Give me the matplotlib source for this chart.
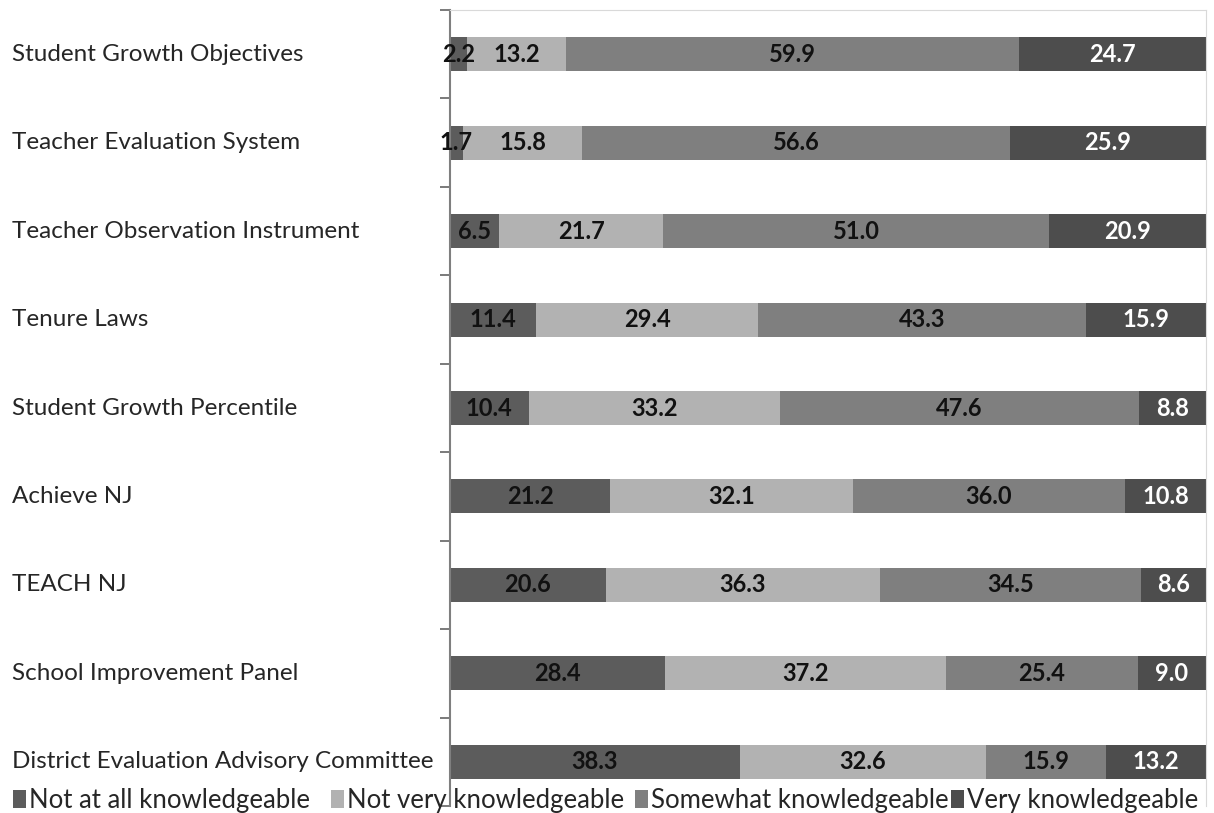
import matplotlib
matplotlib.use("Agg")
import matplotlib.pyplot as plt
import matplotlib.transforms as mtransforms
import numpy as np

categories = [
    "Student Growth Objectives",
    "Teacher Evaluation System",
    "Teacher Observation Instrument",
    "Tenure Laws",
    "Student Growth Percentile",
    "Achieve NJ",
    "TEACH NJ",
    "School Improvement Panel",
    "District Evaluation Advisory Committee",
]
series_names = ["Not at all knowledgeable", "Not very knowledgeable",
                "Somewhat knowledgeable", "Very knowledgeable"]
not_at_all = [2.2, 1.7, 6.5, 11.4, 10.4, 21.2, 20.6, 28.4, 38.3]
not_very = [13.2, 15.8, 21.7, 29.4, 33.2, 32.1, 36.3, 37.2, 32.6]
somewhat = [59.9, 56.6, 51.0, 43.3, 47.6, 36.0, 34.5, 25.4, 15.9]
very = [24.7, 25.9, 20.9, 15.9, 8.8, 10.8, 8.6, 9.0, 13.2]

colors = ["#5c5c5c", "#b2b2b2", "#7f7f7f", "#4d4d4d"]
text_colors = ["#111111", "#111111", "#111111", "#ffffff"]

plt.rcParams['font.family'] = ['Lato', 'DejaVu Sans']

W, H = 1214, 813
fig = plt.figure(figsize=(W/100, H/100), dpi=100)
ax = fig.add_axes([450/W, 1-806/H, (1206-450)/W, (806-10)/H])

y = np.arange(len(categories))
left = np.zeros(len(categories))
handles = []
for vals, name, c, tc in zip([not_at_all, not_very, somewhat, very], series_names, colors, text_colors):
    vals = np.array(vals)
    bars = ax.barh(y, vals, left=left, height=0.385, color=c, label=name)
    handles.append(bars)
    for yi, l, v in zip(y, left, vals):
        ax.text(l + v/2, yi, f"{v:.1f}", ha='center', va='center', color=tc,
                fontsize=17, fontweight='bold')
    left += vals

ax.set_xlim(0, 100)
ax.set_ylim(len(categories)-0.5, -0.5)
ax.set_xticks([])
ax.set_yticks(np.arange(-0.5, len(categories), 1.0))
ax.set_yticklabels([])
ax.tick_params(axis='y', direction='out', length=7, width=1.3, color='#6f6f6f')

trans = mtransforms.blended_transform_factory(fig.transFigure, ax.transData)
for yi, cat in zip(y, categories):
    fig.text(12/W, yi, cat, transform=trans, ha='left', va='center',
             fontsize=17.5, color='#262626')

ax.spines['left'].set_color('#7f7f7f')
ax.spines['left'].set_linewidth(1.5)
ax.spines['bottom'].set_visible(False)
ax.spines['top'].set_color('#d9d9d9')
ax.spines['right'].set_color('#d9d9d9')

legend_x = [13, 331, 635, 951]
for h, name, lx in zip(handles, series_names, legend_x):
    leg = fig.legend(handles=[h], labels=[name], loc='center left',
                     bbox_to_anchor=(lx/W, 1-800/H), frameon=False, fontsize=18.5,
                     handlelength=0.5, handleheight=0.7, handletextpad=0.12,
                     borderpad=0, borderaxespad=0)
    for t in leg.get_texts():
        t.set_color('#262626')

fig.savefig("out.png", dpi=100)
